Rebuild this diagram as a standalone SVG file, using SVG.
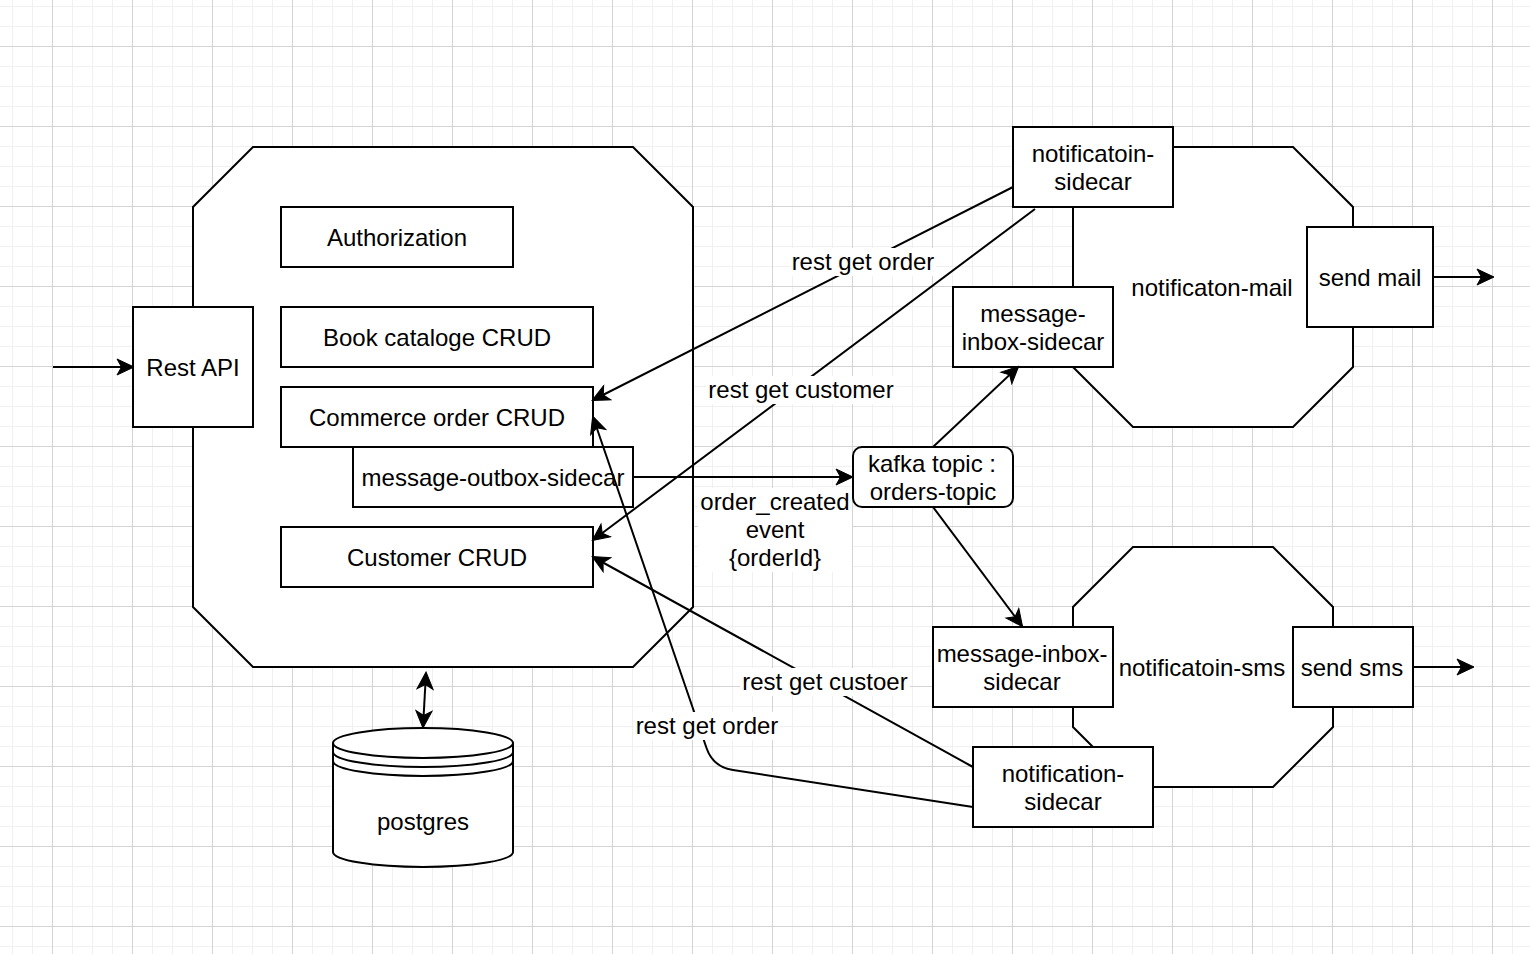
<svg xmlns="http://www.w3.org/2000/svg" width="1530" height="954" viewBox="0 0 1530 954">
<style>
  .n { fill: #ffffff; stroke: #000000; stroke-width: 2; }
  .t { font-family: "Liberation Sans", Arial, Helvetica, sans-serif; font-size: 24px; fill: #000000; text-anchor: middle; }
  .e { fill: none; stroke: #000000; stroke-width: 2; }
  .a { marker-end: url(#arr); }
  .lb { fill: #ffffff; }
</style>
<defs>
  <pattern id="gmin" patternUnits="userSpaceOnUse" x="12" y="6" width="20" height="20">
    <rect x="0" y="0" width="1" height="20" fill="#f0f0f0"/>
    <rect x="0" y="0" width="20" height="1" fill="#f0f0f0"/>
  </pattern>
  <pattern id="gmaj" patternUnits="userSpaceOnUse" x="52" y="46" width="80" height="80">
    <rect x="0" y="0" width="1" height="80" fill="#d4d4d4"/>
    <rect x="0" y="0" width="80" height="1" fill="#d4d4d4"/>
  </pattern>
  <marker id="arr" markerUnits="userSpaceOnUse" viewBox="-18 -9 20 18" refX="0" refY="0" markerWidth="20" markerHeight="18" orient="auto-start-reverse">
    <path d="M1,0 L-16,-8 L-11.5,0 L-16,8 Z" fill="#000000" stroke="#000000" stroke-width="1"/>
  </marker>
</defs>
<rect x="0" y="0" width="1530" height="954" fill="#ffffff"/>
<rect x="0" y="0" width="1530" height="954" fill="url(#gmin)"/>
<rect x="0" y="0" width="1530" height="954" fill="url(#gmaj)"/>

<g id="commerce-service">
  <polygon class="n" points="253,147 633,147 693,207 693,607 633,667 253,667 193,607 193,207"/>
</g>
<g id="rest-api">
  <rect class="n" x="133" y="307" width="120" height="120"/>
  <text class="t" x="193" y="376">Rest API</text>
</g>
<g id="authorization">
  <rect class="n" x="281" y="207" width="232" height="60"/>
  <text class="t" x="397" y="246">Authorization</text>
</g>
<g id="book-catalog">
  <rect class="n" x="281" y="307" width="312" height="60"/>
  <text class="t" x="437" y="346">Book cataloge CRUD</text>
</g>
<g id="commerce-order">
  <rect class="n" x="281" y="387" width="312" height="60"/>
  <text class="t" x="437" y="426">Commerce order CRUD</text>
</g>
<g id="outbox-sidecar">
  <rect class="n" x="353" y="447" width="280" height="60"/>
  <text class="t" x="493" y="486">message-outbox-sidecar</text>
</g>
<g id="customer">
  <rect class="n" x="281" y="527" width="312" height="60"/>
  <text class="t" x="437" y="566">Customer CRUD</text>
</g>
<g id="postgres">
  <path class="n" d="M333,743 A90,15 0 0 1 513,743 L513,852 A90,15 0 0 1 333,852 Z"/>
  <path class="e" d="M333,743 A90,15 0 0 0 513,743 M333,752 A90,15 0 0 0 513,752 M333,761 A90,15 0 0 0 513,761"/>
  <text class="t" x="423" y="830">postgres</text>
</g>

<g id="notification-mail">
  <polygon class="n" points="1133,147 1293,147 1353,207 1353,367 1293,427 1133,427 1073,367 1073,207"/>
  <text class="t" x="1212" y="296">notificaton-mail</text>
</g>
<g id="notification-sms">
  <polygon class="n" points="1133,547 1273,547 1333,607 1333,727 1273,787 1133,787 1073,727 1073,607"/>
  <text class="t" x="1202" y="676">notificatoin-sms</text>
</g>
<g id="mail-notif-sidecar">
  <rect class="n" x="1013" y="127" width="160" height="80"/>
  <text class="t" x="1093" y="162">notificatoin-</text>
  <text class="t" x="1093" y="190">sidecar</text>
</g>
<g id="mail-inbox-sidecar">
  <rect class="n" x="953" y="287" width="160" height="80"/>
  <text class="t" x="1033" y="322">message-</text>
  <text class="t" x="1033" y="350">inbox-sidecar</text>
</g>
<g id="send-mail">
  <rect class="n" x="1307" y="227" width="126" height="100"/>
  <text class="t" x="1370" y="286">send mail</text>
</g>
<g id="sms-inbox-sidecar">
  <rect class="n" x="933" y="627" width="180" height="80"/>
  <text class="t" x="1022" y="662">message-inbox-</text>
  <text class="t" x="1022" y="690">sidecar</text>
</g>
<g id="send-sms">
  <rect class="n" x="1293" y="627" width="120" height="80"/>
  <text class="t" x="1352" y="676">send sms</text>
</g>
<g id="sms-notif-sidecar">
  <rect class="n" x="973" y="747" width="180" height="80"/>
  <text class="t" x="1063" y="782">notification-</text>
  <text class="t" x="1063" y="810">sidecar</text>
</g>
<g id="kafka">
  <rect class="n" x="853" y="447" width="160" height="60" rx="9" ry="9"/>
  <text class="t" x="932" y="472">kafka topic :</text>
  <text class="t" x="933" y="500">orders-topic</text>
</g>

<g id="connectors">
  <path class="e a" d="M53,367 L133,367"/>
  <path class="e a" d="M1433,277 L1493,277"/>
  <path class="e a" d="M1413,667 L1473,667"/>
  <path class="e a" d="M426,673 L423,727" style="marker-start:url(#arr)"/>
  <path class="e a" d="M633,477 L852,477"/>
  <path class="e a" d="M933,447 L1018,367"/>
  <path class="e a" d="M933,507 L1022,626"/>
  <path class="e a" d="M1013,187 L593,400"/>
  <path class="e a" d="M1035,209 L593,540"/>
  <path class="e a" d="M973,767 L593,557"/>
  <path class="e a" d="M973,807 L733,770 Q713,767 706.5,748 L593,417"/>

  <rect class="lb" x="790" y="248" width="146" height="28"/>
  <text class="t" x="863" y="270">rest get order</text>
  <rect class="lb" x="706" y="376" width="190" height="28"/>
  <text class="t" x="801" y="398">rest get customer</text>
  <rect class="lb" x="698" y="488" width="154" height="84"/>
  <text class="t" x="775" y="510">order_created</text>
  <text class="t" x="775" y="538">event</text>
  <text class="t" x="775" y="566">{orderId}</text>
  <rect class="lb" x="740" y="668" width="170" height="28"/>
  <text class="t" x="825" y="690">rest get custoer</text>
  <rect class="lb" x="634" y="712" width="146" height="28"/>
  <text class="t" x="707" y="734">rest get order</text>
</g>
</svg>
